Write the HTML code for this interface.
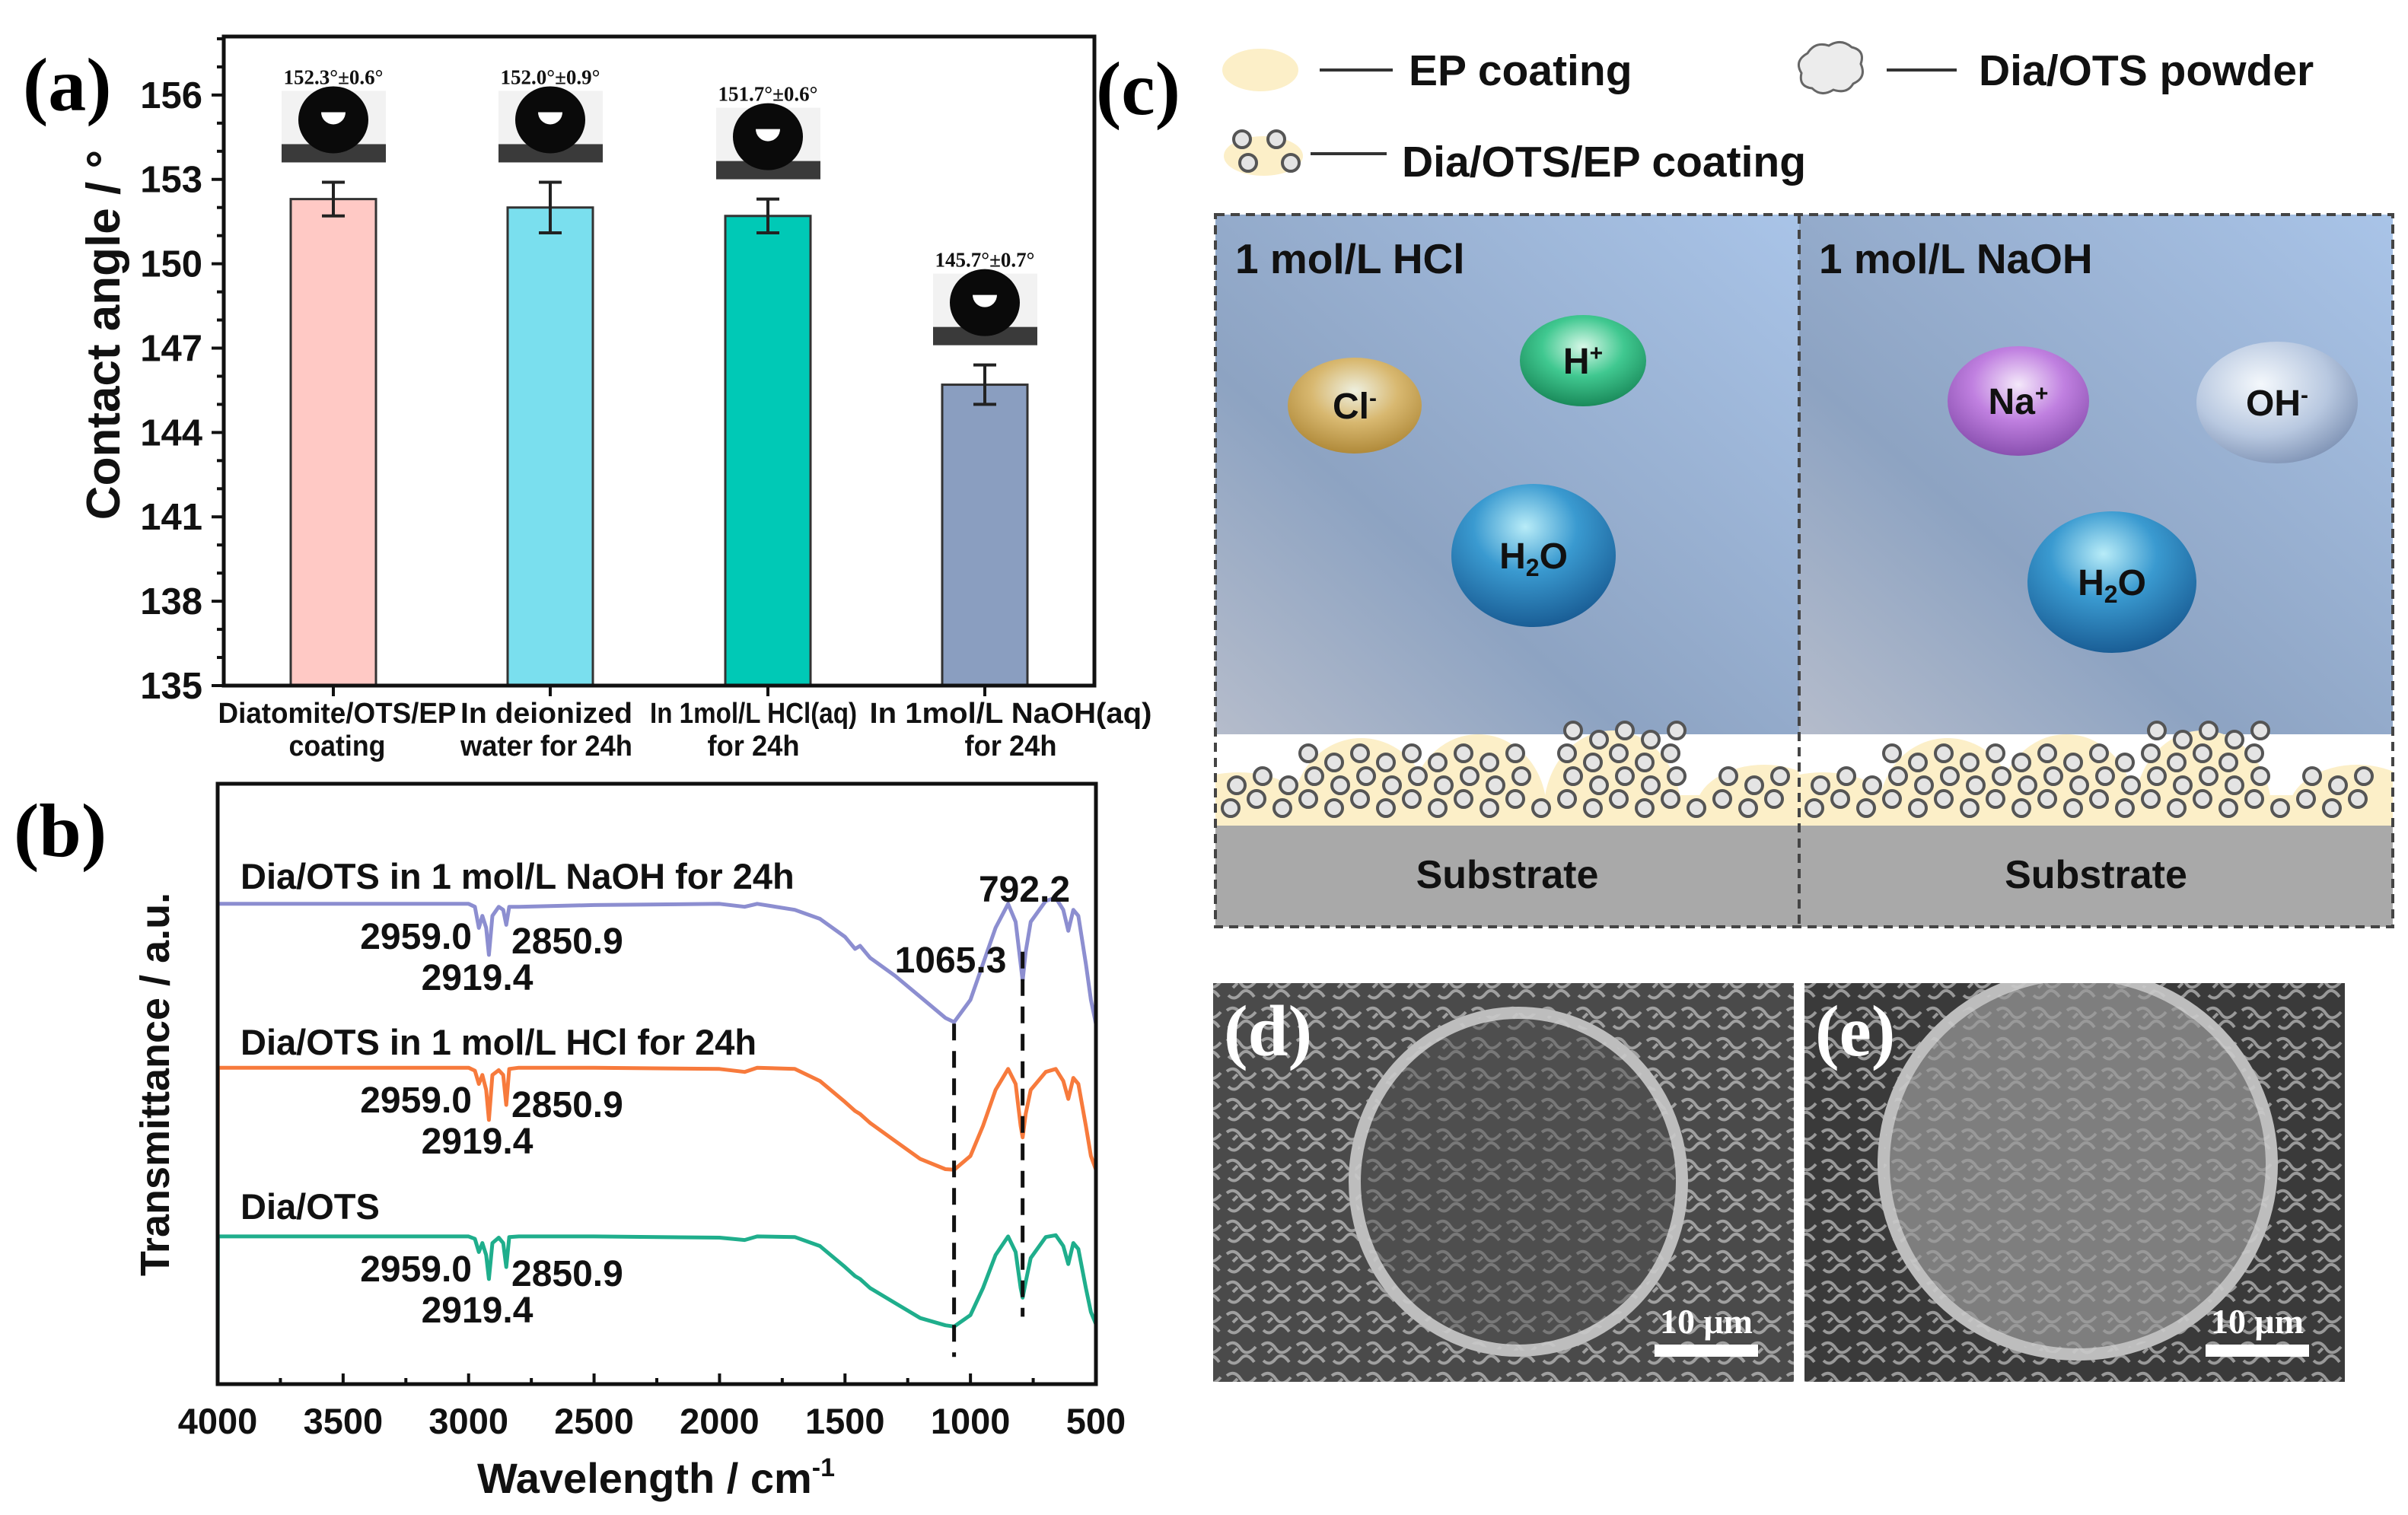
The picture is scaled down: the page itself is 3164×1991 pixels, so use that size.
<!DOCTYPE html>
<html><head><meta charset="utf-8"><style>
html,body{margin:0;padding:0;background:#fff}
svg{display:block}
text{font-family:"Liberation Sans",sans-serif}
.serif{font-family:"Liberation Serif",serif}
</style></head><body>
<svg id="fig" xmlns="http://www.w3.org/2000/svg" width="3164" height="1991" viewBox="0 0 3164 1991">
<defs>
<linearGradient id="bgL" x1="0" y1="1" x2="1" y2="0">
<stop offset="0" stop-color="#b5bccb"/><stop offset="0.35" stop-color="#8da3c2"/><stop offset="1" stop-color="#a9c4e8"/></linearGradient>
<radialGradient id="gCl" cx="0.5" cy="0.35" r="0.65"><stop offset="0" stop-color="#eef0e0"/><stop offset="0.5" stop-color="#d8b870"/><stop offset="1" stop-color="#b08a3a"/></radialGradient>
<radialGradient id="gH" cx="0.5" cy="0.35" r="0.65"><stop offset="0" stop-color="#d8f8e8"/><stop offset="0.5" stop-color="#40c890"/><stop offset="1" stop-color="#1a8a5a"/></radialGradient>
<radialGradient id="gW" cx="0.45" cy="0.3" r="0.7"><stop offset="0" stop-color="#b8ecf8"/><stop offset="0.45" stop-color="#3a9ad0"/><stop offset="1" stop-color="#1a5e96"/></radialGradient>
<radialGradient id="gNa" cx="0.5" cy="0.35" r="0.65"><stop offset="0" stop-color="#f4e8fa"/><stop offset="0.5" stop-color="#c080e0"/><stop offset="1" stop-color="#8a50b0"/></radialGradient>
<radialGradient id="gOH" cx="0.4" cy="0.35" r="0.7"><stop offset="0" stop-color="#f4f8fc"/><stop offset="0.6" stop-color="#b8c8e0"/><stop offset="1" stop-color="#7e92b4"/></radialGradient>
<pattern id="tex" width="46" height="40" patternUnits="userSpaceOnUse">
<path d="M2 8 q10 -8 18 4 t20 -2 M4 28 q8 8 16 -2 t18 4 M10 18 l6 -6" stroke="#d8d8d8" stroke-width="4" fill="none" opacity="0.6"/></pattern>
<clipPath id="clipL"><rect x="1597" y="282" width="767" height="936"/></clipPath>
<clipPath id="clipR"><rect x="2364" y="282" width="780" height="936"/></clipPath>
</defs>

<text class="serif" x="30" y="145" font-size="100" font-weight="bold">(a)</text>
<text class="serif" x="18" y="1125" font-size="100" font-weight="bold">(b)</text>
<text class="serif" x="1440" y="150" font-size="100" font-weight="bold">(c)</text>

<g id="chartA"></g>
<g id="chartB"></g>
<g id="panelC"></g>
<g id="panelDE"></g>
</svg>
<script>
// ---------- Chart A data ----------
const catLine1 = ["Diatomite/OTS/EP","In deionized","In 1mol/L HCl(aq)","In 1mol/L NaOH(aq)"];
const catLine2 = ["coating","water for 24h","for 24h","for 24h"];
const angleValues = [152.3,152.0,151.7,145.7];
const angleErrors = [0.6,0.9,0.6,0.7];
const angleLabels = ["152.3°±0.6°","152.0°±0.9°","151.7°±0.6°","145.7°±0.7°"];
const barColors = ["#ffc9c5","#7adfee","#00c9b6","#8a9ec0"];
const yTicksA = [135,138,141,144,147,150,153,156];

// ---------- Chart B data ----------
const wn = [4000,3999,3100,3000,2975,2959,2945,2930,2919,2905,2880,2862,2850,2838,2800,2500,2000,1900,1850,1700,1600,1500,1460,1440,1400,1300,1200,1100,1065,1000,950,900,850,820,800,792,780,760,700,660,630,610,590,570,540,520,500];
const tNaOH = [80,80,80,80,79.5,76,78,76,71.5,78,79.5,79,76.5,79.5,79.5,79.8,80,79.5,80,79,77.5,74.5,72.5,73,71,68,64.5,61,60.3,64,70,76,80,77,70,67.2,72,77,80.5,81,79,75.5,79,78,70,64,60];
const tHCl = [27.5,52.7,52.7,52.7,52.2,50,51.5,49,44,51.5,52.3,51.5,46.5,52.5,52.7,52.7,52.5,52,52.7,52.5,50.5,47,45.5,45,43.5,40.5,37.5,35.8,35.7,38,43,49,52.5,50,43,41.1,45,49,52,52.5,50.5,47.5,51,50,43,38,35.7];
const tOTS = [0,24.6,24.6,24.6,24.2,22,23.5,21.5,17.5,23.5,24.4,23.5,19.5,24.5,24.6,24.6,24.4,24,24.6,24.5,23,19.5,18,17.5,16,13.5,11,9.8,9.6,11.5,16,21.5,24.6,22,16,14.4,17,21,24.5,24.8,23,20,23.5,22.5,16,12,10];
const xTicksB = [4000,3500,3000,2500,2000,1500,1000,500];
const seriesNames = ["Dia/OTS in 1 mol/L NaOH for 24h","Dia/OTS in 1 mol/L HCl for 24h","Dia/OTS"];
const seriesColors = ["#8c8ed0","#f77a3c","#1fae8c"];
const peakWn = [1065.3,792.2];

const NS="http://www.w3.org/2000/svg";
function mk(parent,tag,attrs,txt){const e=document.createElementNS(NS,tag);for(const k in attrs)e.setAttribute(k,attrs[k]);if(txt!==undefined)e.textContent=txt;parent.appendChild(e);return e;}

// ===== Chart A =====
(function(){
const g=document.getElementById('chartA');
const L=294,R=1438,T=48,B=901,ymin=135,ymax=158.08;
const y=v=>B-(v-ymin)/(ymax-ymin)*(B-T);
const cx=[438,723,1009,1294];
const lx=[443,718,990,1328];
const w1=[313,226,272,371];
const w2=[127,226,121,121];
const bw=112;
for(let v=135;v<=158;v++){
  const len=(v%3===0)?16:9;
  const t=mk(g,'line',{x1:L-len,x2:L,y1:y(v),y2:y(v),stroke:'#111','stroke-width':4});
  
  
}
yTicksA.forEach(v=>{
  const t=mk(g,'text',{x:266,y:y(v)+17,'font-size':49,'font-weight':'bold','text-anchor':'end',fill:'#111'},String(v));
  
  
});
const yt=mk(g,'text',{x:0,y:0,'font-size':62,'font-weight':'bold','text-anchor':'middle',fill:'#111',transform:'translate(157,440) rotate(-90)'},'Contact angle / °');


angleValues.forEach((v,i)=>{
  const b=mk(g,'rect',{x:cx[i]-bw/2,y:y(v),width:bw,height:B-y(v),fill:barColors[i],stroke:'#333','stroke-width':3});
  
  
  const e=angleErrors[i];
  const eb=mk(g,'path',{d:`M${cx[i]} ${y(v+e)}V${y(v-e)}M${cx[i]-15} ${y(v+e)}h30M${cx[i]-15} ${y(v-e)}h30`,stroke:'#222','stroke-width':4,fill:'none'});
  
  
  const top=y(v+e)-26;
  const dg=mk(g,'g',{});
  
  
  mk(dg,'rect',{x:cx[i]-68,y:top-94,width:137,height:94,fill:'#f2f2f2'});
  mk(dg,'rect',{x:cx[i]-68,y:top-24,width:137,height:24,fill:'#3a3a3a'});
  mk(dg,'ellipse',{cx:cx[i],cy:top-56,rx:46,ry:44,fill:'#0a0a0a'});
  mk(dg,'path',{d:`M${cx[i]-16} ${top-66}h32a16 16 0 0 1 -32 0z`,fill:'#fff'});
  const lb=mk(g,'text',{x:cx[i],y:top-103,'font-size':27,'font-weight':'bold','text-anchor':'middle',fill:'#111',class:'serif'},angleLabels[i]);
  
  
  const xt=mk(g,'line',{x1:cx[i],x2:cx[i],y1:B,y2:B+14,stroke:'#111','stroke-width':4});
  
  
  const l1=mk(g,'text',{x:lx[i],y:950,'font-size':38,'font-weight':'bold','text-anchor':'middle',fill:'#111',textLength:w1[i],lengthAdjust:'spacingAndGlyphs'},catLine1[i]);
  
  
  const l2=mk(g,'text',{x:lx[i],y:993,'font-size':38,'font-weight':'bold','text-anchor':'middle',fill:'#111',textLength:w2[i],lengthAdjust:'spacingAndGlyphs'},catLine2[i]);
  
  
});
const fr=mk(g,'rect',{x:L,y:T,width:R-L,height:B-T,fill:'none',stroke:'#111','stroke-width':5});


})();

// ===== Chart B =====
(function(){
const g=document.getElementById('chartB');
const L=286,R=1440,T=1030,B=1819;
const x=w=>L+(4000-w)/3500*(R-L);
const y=t=>B-t/100*(B-T);
[tNaOH,tHCl,tOTS].forEach((s,si)=>{
  const d=s.map((t,i)=>(i?'L':'M')+x(wn[i]).toFixed(1)+' '+y(t).toFixed(1)).join('');
  const p=mk(g,'path',{d:d,fill:'none',stroke:seriesColors[si],'stroke-width':5,'stroke-linejoin':'round'});
  
  
});
const d1=mk(g,'line',{x1:x(peakWn[0]),x2:x(peakWn[0]),y1:y(tNaOH[28])+2,y2:y(tOTS[28])+40,stroke:'#111','stroke-width':5,'stroke-dasharray':'22 14'});


const d2=mk(g,'line',{x1:x(peakWn[1]),x2:x(peakWn[1]),y1:y(tNaOH[35])-38,y2:y(tOTS[35])+25,stroke:'#111','stroke-width':5,'stroke-dasharray':'22 14'});


const fr=mk(g,'rect',{x:L,y:T,width:R-L,height:B-T,fill:'none',stroke:'#111','stroke-width':5});


for(let w=500;w<=4000;w+=250){
  const len=(w%500===0)?14:8;
  const t=mk(g,'line',{x1:x(w),x2:x(w),y1:B,y2:B-len,stroke:'#111','stroke-width':4});
  
  
}
xTicksB.forEach(w=>{
  const t=mk(g,'text',{x:x(w),y:1884,'font-size':47,'font-weight':'bold','text-anchor':'middle',fill:'#111'},String(w));
  
  
});
const xt=mk(g,'text',{x:862,y:1962,'font-size':56,'font-weight':'bold','text-anchor':'middle',fill:'#111'});


xt.textContent='Wavelength / cm';
mk(xt,'tspan',{dy:-22,'font-size':34},'-1');
const yt=mk(g,'text',{x:0,y:0,'font-size':54,'font-weight':'bold','text-anchor':'middle',fill:'#111',transform:'translate(222,1425) rotate(-90)'},'Transmittance / a.u.');


const nameY=[1168,1386,1602];
const base=[y(tNaOH[2]),y(tHCl[2]),y(tOTS[2])];
seriesNames.forEach((n,i)=>{
  const t=mk(g,'text',{x:316,y:nameY[i],'font-size':47,'font-weight':'bold',fill:'#111'},n);
  
  
  const b=base[i];
  const a=mk(g,'text',{x:620,y:b+59,'font-size':48,'font-weight':'bold','text-anchor':'end',fill:'#111'},'2959.0');
  
  
  const c=mk(g,'text',{x:672,y:b+65,'font-size':48,'font-weight':'bold',fill:'#111'},'2850.9');
  
  
  const e=mk(g,'text',{x:627,y:b+113,'font-size':48,'font-weight':'bold','text-anchor':'middle',fill:'#111'},'2919.4');
  
  
});
const p1=mk(g,'text',{x:1249,y:1278,'font-size':48,'font-weight':'bold','text-anchor':'middle',fill:'#111'},'1065.3');


const p2=mk(g,'text',{x:1346,y:1185,'font-size':48,'font-weight':'bold','text-anchor':'middle',fill:'#111'},'792.2');


})();

// ===== Panel C schematic =====
(function(){
const g=document.getElementById('panelC');
function circ(par,cx,cy,r){mk(par,'circle',{cx:cx,cy:cy,r:r,fill:'#e4e4e4',stroke:'#555','stroke-width':4});}
const lg=mk(g,'g',{});


mk(lg,'ellipse',{cx:1656,cy:92,rx:50,ry:28,fill:'#fcefc8'});
mk(lg,'line',{x1:1734,x2:1830,y1:92,y2:92,stroke:'#333','stroke-width':4});
const t1=mk(lg,'text',{x:1851,y:112,'font-size':57,'font-weight':'bold',fill:'#111'},'EP coating');


mk(lg,'path',{d:'M2375 70q10-16 28-10q16-10 30 2q18 4 12 22q8 18-10 26q-8 14-26 8q-16 10-28-2q-18-2-14-20q-10-16 8-26z',fill:'#ececec',stroke:'#666','stroke-width':3});
mk(lg,'line',{x1:2479,x2:2571,y1:92,y2:92,stroke:'#333','stroke-width':4});
const t2=mk(lg,'text',{x:2600,y:112,'font-size':57,'font-weight':'bold',fill:'#111'},'Dia/OTS powder');


mk(lg,'ellipse',{cx:1660,cy:205,rx:52,ry:26,fill:'#fcefc8'});
circ(lg,1632,183,11);circ(lg,1677,183,11);circ(lg,1640,214,11);circ(lg,1696,214,11);
mk(lg,'line',{x1:1722,x2:1822,y1:202,y2:202,stroke:'#333','stroke-width':4});
const t3=mk(lg,'text',{x:1842,y:232,'font-size':57,'font-weight':'bold',fill:'#111'},'Dia/OTS/EP coating');


const halves=[[1597,2364,'1 mol/L HCl','clipL'],[2364,3144,'1 mol/L NaOH','clipR']];
const mounds=[0.04,0.25,0.45,0.68,0.94];
halves.forEach((h,hi)=>{
  const [x0,x1,lab,clip]=h; const w=x1-x0;
  const bg=mk(g,'g',{'clip-path':'url(#'+clip+')'});
  
  
  mk(bg,'rect',{x:x0,y:282,width:w,height:683,fill:'url(#bgL)'});
  mk(bg,'rect',{x:x0,y:965,width:w,height:120,fill:'#fff'});
  mk(bg,'rect',{x:x0,y:1045,width:w,height:40,fill:'#fcefc8'});
  mounds.forEach((m,k)=>{
    const cx=x0+m*w; const hh=[50,95,100,105,60][k];
    mk(bg,'ellipse',{cx:cx,cy:1065,rx:90,ry:hh,fill:'#fcefc8'});
  });
  mk(bg,'rect',{x:x0,y:1085,width:w,height:133,fill:'#a9a9a9'});
  const cols=Math.floor(w/34);
  for(let c=0;c<cols;c++){
    const cx=x0+20+c*34;
    const rel=(cx-x0)/w;
    let hgt=1;
    mounds.forEach((m,k)=>{const dd=Math.abs(rel-m)*w; if(dd<80) hgt=Math.max(hgt,[2,3,3,4,2][k]);});
    for(let r=0;r<hgt;r++){
      const cy=1062-r*30-(c%2)*12;
      circ(bg,cx+((r%2)?8:0),cy,11);
    }
  }
  const st=mk(bg,'text',{x:x0+w/2,y:1167,'font-size':52,'font-weight':'bold','text-anchor':'middle',fill:'#111'},'Substrate');
  
  
  const tl=mk(bg,'text',{x:x0+26,y:359,'font-size':55,'font-weight':'bold',fill:'#111'},lab);
  
  
});
const box=mk(g,'path',{d:'M1597 282H3144V1218H1597ZM2364 282V1218',fill:'none',stroke:'#444','stroke-width':4,'stroke-dasharray':'12 8'});


const ions=[[1780,533,88,63,'url(#gCl)','Cl','-'],[2080,474,83,60,'url(#gH)','H','+'],[2015,730,108,94,'url(#gW)','H2O',''],
[2652,527,93,72,'url(#gNa)','Na','+'],[2992,529,106,80,'url(#gOH)','OH','-'],[2775,765,111,93,'url(#gW)','H2O','']];
ions.forEach(io=>{
  const ig=mk(g,'g',{});
  
  
  mk(ig,'ellipse',{cx:io[0],cy:io[1],rx:io[2],ry:io[3],fill:io[4]});
  const t=mk(ig,'text',{x:io[0],y:io[1]+17,'font-size':48,'font-weight':'bold','text-anchor':'middle',fill:'#111'});
  if(io[5]==='H2O'){t.textContent='H';mk(t,'tspan',{dy:10,'font-size':32},'2');mk(t,'tspan',{dy:-10},'O');}
  else{t.textContent=io[5];mk(t,'tspan',{dy:-17,'font-size':30},io[6]);}
});
})();

// ===== SEM images =====
(function(){
const g=document.getElementById('panelDE');
const imgs=[[1594,1292,763,524,'#4a4a4a',1995,1553,215,222,'#4e4e4e','(d)'],[2371,1292,710,524,'#3a3a3a',2730,1530,255,250,'#7e7e7e','(e)']];
imgs.forEach((m,i)=>{
  const sg=mk(g,'g',{});
  
  
  mk(sg,'rect',{x:m[0],y:m[1],width:m[2],height:m[3],fill:m[4]});
  mk(sg,'rect',{x:m[0],y:m[1],width:m[2],height:m[3],fill:'url(#tex)'});
  const cp='c'+i;
  const cl=mk(sg,'clipPath',{id:cp});mk(cl,'rect',{x:m[0],y:m[1],width:m[2],height:m[3]});
  const inner=mk(sg,'g',{'clip-path':'url(#'+cp+')'});
  mk(inner,'ellipse',{cx:m[5],cy:m[6],rx:m[7],ry:m[8],fill:m[9],stroke:'#bdbdbd','stroke-width':16});
  mk(inner,'ellipse',{cx:m[5],cy:m[6],rx:m[7],ry:m[8],fill:'url(#tex)',opacity:0.5});
  const t=mk(sg,'text',{x:m[0]+14,y:m[1]+95,'font-size':95,'font-weight':'bold',fill:'#fff',class:'serif'},m[10]);
  
  
  const sx=m[0]+m[2]-115;
  const sb=mk(sg,'text',{x:sx,y:m[1]+460,'font-size':46,'font-weight':'bold','text-anchor':'middle',fill:'#fff',class:'serif'},'10 μm');
  
  
  const bar=mk(sg,'rect',{x:sx-68,y:m[1]+475,width:136,height:16,fill:'#fff'});
  
  
});
})();
</script>
</body></html>
